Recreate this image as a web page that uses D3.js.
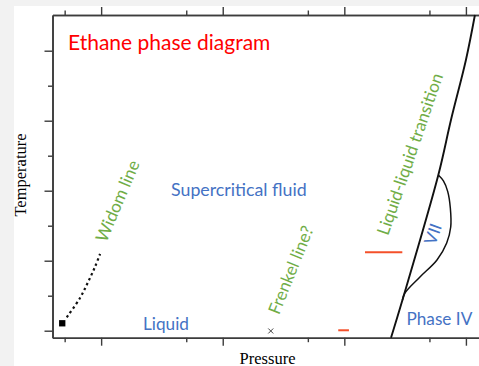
<!DOCTYPE html>
<html>
<head>
<meta charset="utf-8">
<script src="https://cdn.jsdelivr.net/npm/d3@7"></script>
<style>
  html, body { margin: 0; padding: 0; background: #f2f2f2; overflow: hidden; }
  svg { display: block; }
</style>
</head>
<body>
<svg id="chart" width="479" height="366"></svg>
<script>
// Axis tick positions (arbitrary pressure / temperature units)
const pressureMajorTicks = [0.4, 1.4, 2.4, 3.4];
const pressureMinorTicks = [0.1, 1.1, 2.1, 3.1];
const temperatureMajorTicks = [0.1, 1.1, 2.1, 3.1, 4.1];
const temperatureMinorTicks = [0.6, 1.6, 2.6, 3.6];

// Melting line (liquid / phase IV boundary), [pressure, temperature]
const meltingLine = [[2.784, 0], [2.878, 0.539], [3.173, 2.324], [3.277, 3.110], [3.400, 3.967], [3.474, 4.61]];
// Phase VII boundary
const phaseVIIBoundary = [[3.173, 2.324], [3.215, 2.240], [3.250, 2.090], [3.272, 1.850], [3.275, 1.581],
                          [3.242, 1.353], [3.162, 1.110], [3.022, 0.867], [2.899, 0.639], [2.878, 0.539]];
// Widom line leaving the critical point
const widomLine = [[0.117, 0.291], [0.226, 0.567], [0.294, 0.800], [0.350, 1.014], [0.391, 1.196]];
const criticalPoint = [0.080, 0.206];
const frenkelPoint = [1.795, 0.096];
// Liquid-liquid transition observations
const transitionMarks = [
  [[2.570, 1.221], [2.877, 1.221]],
  [[2.350, 0.106], [2.438, 0.106]]
];

const svg = d3.select("#chart");
const W = 479, H = 366;

// white panel
svg.append("rect").attr("x", 14).attr("y", 6).attr("width", W - 14).attr("height", H - 6).attr("fill", "#ffffff");

const x = d3.scaleLinear().domain([0, 3.515]).range([52.5, 479.9]);
const y = d3.scaleLinear().domain([0, 4.61]).range([337.7, 15]);

const axisColor = "#3c3c3c";
function styleAxis(g) {
  g.selectAll("path.domain").attr("stroke", axisColor).attr("stroke-width", 1.6);
  g.selectAll(".tick line").attr("stroke", axisColor).attr("stroke-width", 1.4);
  g.selectAll(".tick text").remove();
}

const bottomY = y(0), topY = y(4.61), leftX = x(0);
// bottom
svg.append("g").attr("transform", `translate(0,${bottomY})`)
  .call(d3.axisBottom(x).tickValues(pressureMajorTicks).tickSize(8).tickSizeOuter(0).tickFormat(""))
  .call(styleAxis);
svg.append("g").attr("transform", `translate(0,${bottomY})`)
  .call(d3.axisBottom(x).tickValues(pressureMinorTicks).tickSize(4.5).tickSizeOuter(0).tickFormat(""))
  .call(styleAxis);
// top
svg.append("g").attr("transform", `translate(0,${topY})`)
  .call(d3.axisTop(x).tickValues(pressureMajorTicks).tickSize(8).tickSizeOuter(0).tickFormat(""))
  .call(styleAxis);
svg.append("g").attr("transform", `translate(0,${topY})`)
  .call(d3.axisTop(x).tickValues(pressureMinorTicks).tickSize(4.5).tickSizeOuter(0).tickFormat(""))
  .call(styleAxis);
// left
svg.append("g").attr("transform", `translate(${leftX},0)`)
  .call(d3.axisLeft(y).tickValues(temperatureMajorTicks).tickSize(8).tickSizeOuter(0).tickFormat(""))
  .call(styleAxis);
svg.append("g").attr("transform", `translate(${leftX},0)`)
  .call(d3.axisLeft(y).tickValues(temperatureMinorTicks).tickSize(4.5).tickSizeOuter(0).tickFormat(""))
  .call(styleAxis);

const curve = (pts, c) => d3.line().x(d => x(d[0])).y(d => y(d[1])).curve(c)(pts);

// melting line
svg.append("path")
  .attr("d", curve(meltingLine, d3.curveCatmullRom))
  .attr("fill", "none").attr("stroke", "#111").attr("stroke-width", 1.9);

// phase VII dome
svg.append("path")
  .attr("d", curve(phaseVIIBoundary, d3.curveCatmullRom))
  .attr("fill", "none").attr("stroke", "#111").attr("stroke-width", 1.5);

// Widom line
svg.append("path")
  .attr("d", curve(widomLine, d3.curveCatmullRom))
  .attr("fill", "none").attr("stroke", "#111").attr("stroke-width", 2.2)
  .attr("stroke-dasharray", "2.4,3");

// critical point
svg.append("path")
  .attr("transform", `translate(${x(criticalPoint[0])},${y(criticalPoint[1])})`)
  .attr("d", d3.symbol(d3.symbolSquare, 40)())
  .attr("fill", "#000");

// Frenkel cross
svg.append("path")
  .attr("transform", `translate(${x(frenkelPoint[0])},${y(frenkelPoint[1])})`)
  .attr("d", d3.symbol(d3.symbolTimes, 18)())
  .attr("fill", "none").attr("stroke", "#444").attr("stroke-width", 1);

// transition marks
svg.selectAll("path.mark").data(transitionMarks).join("path").attr("class", "mark")
  .attr("d", d => d3.line().x(p => x(p[0])).y(p => y(p[1]))(d))
  .attr("stroke", "#f4502a").attr("stroke-width", 2).attr("fill", "none");

// labels
const sans = "Lato, 'Open Sans', sans-serif";
function label(text, px, py, opts) {
  const t = svg.append("text").text(text)
    .attr("font-family", opts.family || sans)
    .attr("font-size", opts.size)
    .attr("fill", opts.color)
    .attr("text-anchor", opts.anchor || "start");
  if (opts.rotate) {
    t.attr("transform", `translate(${px},${py}) rotate(${opts.rotate})`).attr("dy", "0.35em");
  } else {
    t.attr("x", px).attr("y", py);
  }
  return t;
}

label("Ethane phase diagram", 68, 50, { size: 21, color: "#ff0000" });
label("Supercritical fluid", 171, 196, { size: 17.8, color: "#4472c4" });
label("Liquid", 143, 330, { size: 17.2, color: "#4472c4" });
label("Phase IV", 406.5, 325, { size: 17.2, color: "#4472c4" });
label("VII", 433, 234, { size: 17, color: "#4472c4", anchor: "middle", rotate: -70 });
label("Widom line", 117.5, 201, { size: 17.2, color: "#70ad47", anchor: "middle", rotate: -67 });
label("Frenkel line?", 290.8, 270, { size: 17.2, color: "#70ad47", anchor: "middle", rotate: -68 });
label("Liquid-liquid transition", 410, 154, { size: 17.2, color: "#70ad47", anchor: "middle", rotate: -71 });

const serif = "'Liberation Serif', 'Times New Roman', serif";
label("Temperature", 25.5, 175, { size: 16.5, color: "#000", family: serif, anchor: "middle", rotate: -90 })
  .attr("dy", null);
label("Pressure", 267.5, 363.5, { size: 16.5, color: "#000", family: serif, anchor: "middle" });
</script>
</body>
</html>
